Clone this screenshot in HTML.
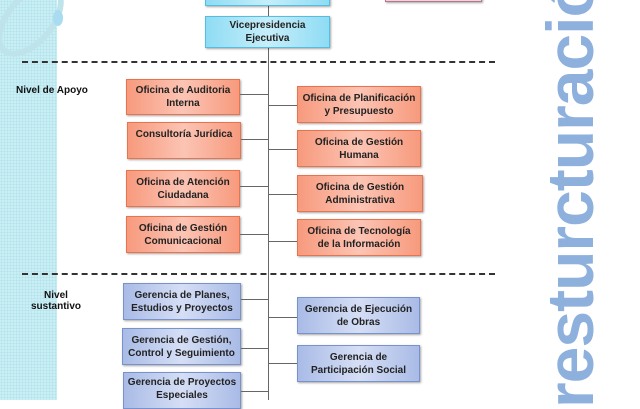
<!DOCTYPE html>
<html><head><meta charset="utf-8"><style>
body{margin:0;width:640px;height:400px;overflow:hidden;background:#fff;position:relative;font-family:"Liberation Sans",sans-serif}
.strip{position:absolute;left:0;top:0;width:57px;height:400px;background:#c9eef4;background-image:radial-gradient(#b3e2ea 1px,transparent 1px);background-size:3px 3px}
.b{position:absolute;box-sizing:border-box;display:flex;align-items:center;justify-content:center;text-align:center;font-size:10px;font-weight:bold;line-height:13px;color:#222;box-shadow:1px 1px 2px rgba(0,0,0,.35)}
.o{background:linear-gradient(90deg,#f79a7d,#fcc4b4 50%,#f79a7d);border:1px solid #e8744f}
.u{background:linear-gradient(90deg,#a9bbe6,#d5def5 50%,#a9bbe6);border:1px solid #7a92cc}
.c{background:linear-gradient(90deg,#8fdcf4,#c6eefa 50%,#8fdcf4);border:1px solid #55bde0}
.h{position:absolute;height:1px;background:#666}
.d{position:absolute;left:22px;width:473px;border-top:2px dashed #333}
.lbl{position:absolute;font-size:10px;font-weight:bold;text-align:center;color:#111}
.vt{position:absolute;left:532px;top:408px;transform:rotate(-90deg);transform-origin:0 0;font-size:66px;font-weight:bold;color:#8eb0dc;white-space:nowrap;letter-spacing:-1px}
</style></head><body>
<div class="strip"></div>
<svg style="position:absolute;left:0;top:0" width="90" height="70"><ellipse cx="30" cy="20" rx="40" ry="22" fill="none" stroke="#bfe3ea" stroke-width="6" transform="rotate(-50 30 20)"/><ellipse cx="58" cy="18" rx="5" ry="8" fill="#a9dcf0"/></svg>
<div class="vt">resturcturación</div>
<div style="position:absolute;left:268px;top:0;width:1px;height:400px;background:#666"></div>
<div class="b c" style="left:205px;top:-20px;width:125px;height:26px"></div>
<div class="b" style="left:385px;top:-20px;width:97px;height:22px;background:#f3d2dc;border:1px solid #b07a8a"></div>
<div class="b c" style="left:205px;top:16px;width:125px;height:32px">Vicepresidencia<br>Ejecutiva</div>
<div class="d" style="top:61px"></div>
<div class="d" style="top:273px"></div>
<div class="lbl" style="left:16px;top:85px">Nivel de Apoyo</div>
<div class="lbl" style="left:25px;top:290px;width:62px">Nivel<br>sustantivo</div>

<div class="b o" style="left:126px;top:79px;width:114px;height:36px">Oficina de Auditoria<br>Interna</div>
<div class="h" style="left:240px;top:94px;width:29px"></div>
<div class="b o" style="left:127px;top:122px;width:114px;height:37px;align-items:flex-start;padding-top:5px">Consultoría Jurídica</div>
<div class="h" style="left:241px;top:139px;width:28px"></div>
<div class="b o" style="left:126px;top:170px;width:114px;height:37px">Oficina de Atención<br>Ciudadana</div>
<div class="h" style="left:240px;top:186px;width:29px"></div>
<div class="b o" style="left:126px;top:216px;width:114px;height:37px">Oficina de Gestión<br>Comunicacional</div>
<div class="h" style="left:240px;top:234px;width:29px"></div>

<div class="h" style="left:269px;top:105px;width:28px"></div>
<div class="b o" style="left:297px;top:86px;width:124px;height:37px">Oficina de Planificación<br>y Presupuesto</div>
<div class="h" style="left:269px;top:149px;width:28px"></div>
<div class="b o" style="left:297px;top:130px;width:124px;height:37px">Oficina de Gestión<br>Humana</div>
<div class="h" style="left:269px;top:194px;width:28px"></div>
<div class="b o" style="left:297px;top:175px;width:126px;height:37px">Oficina de Gestión<br>Administrativa</div>
<div class="h" style="left:269px;top:241px;width:28px"></div>
<div class="b o" style="left:297px;top:219px;width:124px;height:37px">Oficina de Tecnología<br>de la Información</div>

<div class="b u" style="left:123px;top:283px;width:118px;height:37px">Gerencia de Planes,<br>Estudios y Proyectos</div>
<div class="h" style="left:241px;top:299px;width:28px"></div>
<div class="b u" style="left:122px;top:328px;width:119px;height:37px">Gerencia de Gestión,<br>Control y Seguimiento</div>
<div class="h" style="left:241px;top:348px;width:28px"></div>
<div class="b u" style="left:123px;top:372px;width:118px;height:37px;align-items:flex-start;padding-top:3px">Gerencia de Proyectos<br>Especiales</div>
<div class="h" style="left:241px;top:391px;width:28px"></div>

<div class="h" style="left:269px;top:317px;width:28px"></div>
<div class="b u" style="left:297px;top:297px;width:123px;height:37px">Gerencia de Ejecución<br>de Obras</div>
<div class="h" style="left:269px;top:363px;width:28px"></div>
<div class="b u" style="left:297px;top:345px;width:123px;height:37px">Gerencia de<br>Participación Social</div>
</body></html>
